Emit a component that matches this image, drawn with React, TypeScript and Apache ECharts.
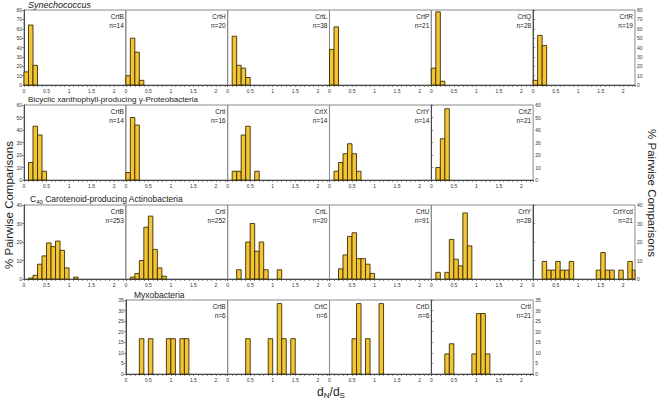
import { useEffect, useRef } from "react";
import * as echarts from "echarts";

// ---------- DATA ----------
// Each histogram: % of pairwise comparisons per dN/dS bin; bin i covers [0.1*i, 0.1*(i+1))
const BIN = 0.1;
const X_MAX = 2.26;

// Row 1 – Synechococcus
const synGenes = ["CrtB", "CrtH", "CrtL", "CrtP", "CrtQ", "CrtR"];
const synN = [14, 20, 38, 21, 28, 19];
const synCrtB = [14, 64, 21];
const synCrtH = [10, 50, 35, 5];
const synCrtL = [0, 52, 21, 18, 8];
const synCrtP = [38, 62];
const synCrtQ = [18, 78, 4];
const synCrtR = [5, 53, 42];

// Row 2 – Bicyclic xanthophyll-producing γ-Proteobacteria
const proGenes = ["CrtB", "CrtI", "CrtX", "CrtY", "CrtZ"];
const proN = [14, 16, 14, 14, 21];
const proCrtB = [0, 14, 43, 36, 7];
const proCrtI = [6, 50, 44];
const proCrtX = [0, 7, 7, 36, 43, 0, 7];
const proCrtY = [0, 7, 14, 21, 29, 21, 7];
const proCrtZ = [0, 10, 33, 57];

// Row 3 – C40 Carotenoid-producing Actinobacteria
const actGenes = ["CrtB", "CrtI", "CrtL", "CrtU", "CrtY", "CrtYcd"];
const actN = [253, 252, 20, 91, 28, 21];
const actCrtB = [0, 0.5, 2, 8, 12.5, 19.5, 17.5, 20.5, 15.5, 6, 0, 1];
const actCrtI = [0, 1, 3, 10, 28, 34, 16, 6, 1.5];
const actCrtL = [0, 0, 5, 0, 20, 30, 15, 20, 5, 0, 0, 5];
const actCrtU = [0, 0, 5.5, 13, 23, 25, 11, 11, 8, 3];
const actCrtY = [0, 3.6, 0, 3.6, 21.4, 10.7, 7.1, 35.7, 17.9];
const actCrtYcd = [0, 0, 9.5, 4.8, 4.8, 9.5, 4.8, 4.8, 9.5, 0, 0, 0, 0, 0, 4.8, 14.3, 4.8, 4.8, 0, 4.8, 0, 9.5, 4.8];

// Row 4 – Myxobacteria
const myxGenes = ["CrtB", "CrtC", "CrtD", "CrtI"];
const myxN = [6, 6, 6, 21];
const myxCrtB = [0, 0, 0, 16.7, 0, 16.7, 0, 0, 0, 16.7, 16.7, 0, 16.7, 16.7];
const myxCrtC = [0, 0, 0, 0, 16.7, 0, 0, 0, 0, 16.7, 0, 33.3, 16.7, 0, 16.7];
const myxCrtD = [0, 0, 0, 0, 0, 16.7, 33.3, 0, 16.7, 0, 0, 33.3];
const myxCrtI = [0, 0, 0, 9.5, 14.3, 0, 0, 0, 0, 9.5, 28.6, 28.6, 9.5];

// Axis ranges per row
const rowYMax = [80, 60, 40, 35];
const rowYStep = [10, 10, 10, 5];

// ---------- LAYOUT ----------
const FONT = "'Liberation Sans', Arial, sans-serif";
const LEFT0 = 24;
const PANEL_W = 101.83;
const rowTop = [10, 105, 205, 300];
const rowH = [75, 75, 74, 74];
const rowCol0 = [0, 0, 0, 1];

const rowGenes = [synGenes, proGenes, actGenes, myxGenes];
const rowNs = [synN, proN, actN, myxN];
const rowData = [
  [synCrtB, synCrtH, synCrtL, synCrtP, synCrtQ, synCrtR],
  [proCrtB, proCrtI, proCrtX, proCrtY, proCrtZ],
  [actCrtB, actCrtI, actCrtL, actCrtU, actCrtY, actCrtYcd],
  [myxCrtB, myxCrtC, myxCrtD, myxCrtI],
];

const BAR_FILL = "#F3C535";
const BAR_STROKE = "#3b2e06";
const FRAME = "#8a8a8a";
const AXIS = "#4a4a4a";

function buildOption() {
  const grid: any[] = [];
  const xAxis: any[] = [];
  const yAxis: any[] = [];
  const series: any[] = [];
  const graphic: any[] = [];

  rowGenes.forEach((genes, r) => {
    genes.forEach((gene, j) => {
      const idx = grid.length;
      const left = LEFT0 + (rowCol0[r] + j) * PANEL_W;
      const first = j === 0;
      const last = j === genes.length - 1;
      grid.push({
        left,
        top: rowTop[r],
        width: PANEL_W,
        height: rowH[r],
        show: true,
        borderColor: FRAME,
        borderWidth: 1,
        backgroundColor: "transparent",
      });
      xAxis.push({
        type: "value",
        gridIndex: idx,
        min: 0,
        max: X_MAX,
        interval: 0.1,
        axisLine: { show: true, lineStyle: { color: AXIS, width: 1 } },
        axisTick: { show: true, length: 2, lineStyle: { color: AXIS, width: 0.6 } },
        axisLabel: {
          fontSize: 5,
          fontFamily: FONT,
          color: "#333",
          margin: 3,
          interval: 0,
          hideOverlap: false,
          formatter: (v: number) => {
            const k = Math.round(v * 10);
            return Math.abs(v * 10 - k) < 1e-6 && k % 5 === 0 ? String(k / 10) : "";
          },
        },
        splitLine: { show: false },
      });
      yAxis.push({
        type: "value",
        gridIndex: idx,
        min: 0,
        max: rowYMax[r],
        interval: rowYStep[r],
        position: last ? "right" : "left",
        show: first || last,
        axisLine: { show: true, lineStyle: { color: AXIS, width: 1 } },
        axisTick: { show: true, length: 2, lineStyle: { color: AXIS, width: 0.6 } },
        axisLabel: { fontSize: 5, fontFamily: FONT, color: "#333", margin: 2 },
        splitLine: { show: false },
      });
      const vals = rowData[r][j];
      series.push({
        type: "custom",
        xAxisIndex: idx,
        yAxisIndex: idx,
        data: vals
          .map((v, i) => [i * BIN, (i + 1) * BIN, v])
          .filter((d) => d[2] > 0),
        encode: { x: [0, 1], y: 2 },
        renderItem: (_p: any, api: any) => {
          const x0 = api.value(0);
          const x1 = Math.min(api.value(1), X_MAX);
          const v = api.value(2);
          const a = api.coord([x0, v]);
          const b = api.coord([x1, 0]);
          return {
            type: "rect",
            shape: { x: a[0], y: a[1], width: b[0] - a[0], height: b[1] - a[1] },
            style: { fill: BAR_FILL, stroke: BAR_STROKE, lineWidth: 0.9 },
          };
        },
      });
      const right = left + PANEL_W - 2;
      graphic.push({
        type: "text",
        x: right,
        y: rowTop[r] + 2,
        style: {
          text: gene + "\nn=" + rowNs[r][j],
          fontSize: 6.5,
          fontFamily: FONT,
          fill: "#222",
          align: "right",
          verticalAlign: "top",
          lineHeight: 9,
        },
      });
    });
  });

  // Row titles
  graphic.push({
    type: "text",
    x: 28,
    y: 5,
    style: { text: "Synechococcus", fontSize: 9, fontStyle: "italic", fontFamily: FONT, fill: "#222", verticalAlign: "middle" },
  });
  graphic.push({
    type: "text",
    x: 28,
    y: 99,
    style: { text: "Bicyclic xanthophyll-producing γ-Proteobacteria", fontSize: 8.1, fontFamily: FONT, fill: "#222", verticalAlign: "middle" },
  });
  graphic.push({
    type: "text",
    x: 30,
    y: 199,
    style: {
      text: "C{sub|40} Carotenoid-producing Actinobacteria",
      fontSize: 8.5,
      fontFamily: FONT,
      fill: "#222",
      verticalAlign: "middle",
      rich: { sub: { fontSize: 6, fontFamily: FONT, fill: "#222", padding: [5, 0, 0, 0] } },
    },
  });
  graphic.push({
    type: "text",
    x: 134,
    y: 295,
    style: { text: "Myxobacteria", fontSize: 8.5, fontFamily: FONT, fill: "#222", verticalAlign: "middle" },
  });

  // Axis titles
  graphic.push({
    type: "text",
    x: 9,
    y: 205,
    rotation: Math.PI / 2,
    style: { text: "% Pairwise Comparisons", fontSize: 11.5, fontFamily: FONT, fill: "#222", align: "center", verticalAlign: "middle" },
  });
  graphic.push({
    type: "text",
    x: 652,
    y: 193,
    rotation: -Math.PI / 2,
    style: { text: "% Pairwise Comparisons", fontSize: 11.5, fontFamily: FONT, fill: "#222", align: "center", verticalAlign: "middle" },
  });
  graphic.push({
    type: "text",
    x: 331,
    y: 392,
    style: {
      text: "d{sub|N}/d{sub|S}",
      fontSize: 12,
      fontFamily: FONT,
      fill: "#222",
      align: "center",
      verticalAlign: "middle",
      rich: { sub: { fontSize: 8, fontFamily: FONT, fill: "#222", padding: [6, 0, 0, 0] } },
    },
  });

  return {
    animation: false,
    backgroundColor: "#ffffff",
    grid,
    xAxis,
    yAxis,
    series,
    graphic,
  };
}

export default function App() {
  const ref = useRef<HTMLDivElement>(null);
  useEffect(() => {
    document.body.style.margin = "0";
    if (!ref.current) return;
    const chart = echarts.init(ref.current, undefined, { renderer: "svg" });
    chart.setOption(buildOption() as any);
    return () => chart.dispose();
  }, []);
  return <div ref={ref} style={{ width: 661, height: 400, position: "absolute", left: 0, top: 0 }} />;
}
